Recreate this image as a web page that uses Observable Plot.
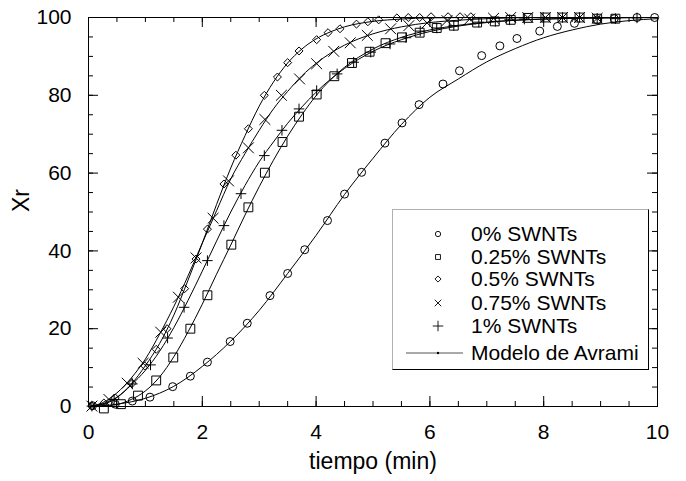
<!DOCTYPE html>
<html><head><meta charset="utf-8">
<script src="https://cdn.jsdelivr.net/npm/d3@7"></script>
<script src="https://cdn.jsdelivr.net/npm/@observablehq/plot@0.6"></script>
<style>
body{margin:0;background:#fff;font-family:"Liberation Sans",Arial,Helvetica,sans-serif;}
#wrap{position:relative;width:686px;height:481px;}
#legend{position:absolute;left:392px;top:209px;width:257px;height:161px;box-sizing:border-box;border-top:1px solid #b0b0b0;border-left:1px solid #b0b0b0;border-right:1.5px solid #000;border-bottom:1.5px solid #000;background:#fff;}
.row{position:absolute;left:0;height:24px;width:250px;}
.row svg{position:absolute;left:13px;top:0;}
.row span{position:absolute;left:78px;top:0;line-height:24px;font-size:21px;white-space:nowrap;color:#000;}
</style></head><body><div id="wrap"><div id="legend"></div></div>
<script>
// ---- data ----
const seriesNames = ["0% SWNTs", "0.25% SWNTs", "0.5% SWNTs", "0.75% SWNTs", "1% SWNTs"];
const modelName = "Modelo de Avrami";

const t0  = [0.07,0.47,0.77,1.08,1.48,1.79,2.09,2.49,2.79,3.19,3.50,3.80,4.20,4.50,4.80,5.21,5.51,5.81,6.23,6.52,6.91,7.23,7.53,7.93,8.24,8.54,8.94,9.24,9.64,9.95];
const xr0 = [0.2,0.6,1.4,2.4,5.1,7.8,11.4,16.7,21.4,28.5,34.2,40.3,47.8,54.6,60.2,67.7,72.9,77.6,82.9,86.3,90.2,92.7,94.6,96.5,97.7,98.5,99.4,99.7,100,100];

const t25  = [0.27,0.57,0.87,1.19,1.49,1.79,2.09,2.51,2.81,3.10,3.41,3.70,4.01,4.32,4.63,4.94,5.22,5.51,5.82,6.12,6.42,6.83,7.14,7.42,7.72,8.03,8.33,8.63,8.94,9.26];
const xr25 = [-0.5,0.6,2.8,6.7,12.6,20.0,28.6,41.6,51.2,60.1,68.0,74.5,80.2,84.9,88.3,91.2,93.4,94.9,96.1,97.3,97.9,98.7,99.0,99.4,99.9,100,100,100,99.7,99.7];

const t50  = [0.06,0.27,0.47,0.77,0.99,1.19,1.38,1.69,1.89,2.09,2.38,2.59,2.81,3.09,3.32,3.50,3.70,4.01,4.21,4.42,4.71,4.91,5.10,5.42,5.62,5.82,6.02,6.32,6.53,6.72];
const xr50 = [0.1,0.9,2.2,6.0,10.4,14.7,20.0,30.3,37.9,45.6,57.2,64.6,71.4,80.0,84.7,88.4,91.4,94.3,96.1,97.1,98.3,98.9,99.4,99.9,100,100,100.2,100.2,100.2,100.2];

const t75  = [0.06,0.36,0.68,0.96,1.27,1.58,1.89,2.19,2.46,2.81,3.10,3.39,3.71,4.01,4.31,4.60,4.90,5.31,5.63,5.95,6.30,6.70,7.12,7.42,7.72,8.03,8.33,8.63,8.94];
const xr75 = [0.1,1.8,6.0,11.1,19.1,28.1,38.2,48.4,58.0,66.5,73.8,80.0,84.2,88.1,91.3,93.5,95.4,97.1,97.9,98.6,99.2,99.6,99.8,100,100,100,100,100,99.8];

const t100  = [0.06,0.45,0.77,1.09,1.39,1.68,2.09,2.38,2.68,3.09,3.40,3.70,4.01,4.37,4.66,4.96,5.30,5.58,5.83,6.12,6.42,6.86,7.15,7.40,7.66,7.99,8.33,8.63,8.94,9.26,9.64];
const xr100 = [0.1,1.8,5.8,10.7,17.6,25.5,37.5,46.5,54.7,64.5,71.0,76.5,81.2,85.5,88.5,91.1,93.2,94.8,96.5,97.3,97.9,98.8,99.0,99.4,99.6,100,100,100,99.8,99.7,99.9];

// Avrami model curves
const fitT0   = [0,0.5,1,1.5,2,2.5,3,3.5,4,4.5,5,5.5,6,6.5,7,7.5,8,8.5,9,9.5,10];
const fitX0   = [0,0.6,2.1,5.2,10.3,16.8,24.7,34.2,44,54.5,63.8,72.5,79.5,84.2,88.6,92,94.8,96.8,98.3,99.2,99.7];
const fitT25  = [0,0.25,0.5,0.75,1,1.25,1.5,1.75,2,2.25,2.5,2.75,3,3.25,3.5,3.75,4,4.5,5,5.5,6,6.5,7,7.5,8,9,10];
const fitX25  = [0,0.1,0.5,1.8,4,7.6,12.8,19.2,26.3,34,41.5,49.2,56.5,63.3,69.5,75,79.9,87.2,91.9,94.9,96.8,98,98.8,99.3,99.6,99.9,100];
const fitT50  = [0,0.25,0.5,0.75,1,1.25,1.5,1.75,2,2.25,2.5,2.75,3,3.25,3.5,3.75,4,4.25,4.5,5,5.5,6,7,8,10];
const fitX50  = [0,0.7,2.4,5.7,10.5,16.2,23.5,32.5,42,51.9,61.3,69.6,77.2,83.4,88.3,91.9,94.5,96.3,97.6,99,99.6,99.9,100,100,100];
const fitT75  = [0,0.25,0.5,0.75,1,1.25,1.5,1.75,2,2.25,2.5,2.75,3,3.25,3.5,3.75,4,4.25,4.5,5,5.5,6,6.5,7,8,10];
const fitX75  = [0,1,3.5,7.3,12.2,18.6,25.7,33.6,42,50.3,58.5,65,71,76.5,81,85,88.2,90.8,92.9,95.8,97.6,98.7,99.3,99.7,100,100];
const fitT100 = [0,0.25,0.5,0.75,1,1.25,1.5,1.75,2,2.25,2.5,2.75,3,3.25,3.5,3.75,4,4.5,5,5.5,6,6.5,7,8,10];
const fitX100 = [0,0.5,2.3,5.5,9.3,14.2,20.3,27.3,34.8,42.5,50,56.8,62.9,68,72.8,77,80.8,86.9,91.3,94.3,96.4,97.8,98.7,99.6,100];

const xTickLabels = [0, 2, 4, 6, 8, 10];
const xMinorTicks = [0,0.5,1,1.5,2,2.5,3,3.5,4,4.5,5,5.5,6,6.5,7,7.5,8,8.5,9,9.5,10];
const yTickLabels = [0, 20, 40, 60, 80, 100];
const yMinorTicks = [0,5,10,15,20,25,30,35,40,45,50,55,60,65,70,75,80,85,90,95,100];
const xLabel = "tiempo (min)";
const yLabel = "Xr";

// ---- build tables ----
const obsT = [t0, t25, t50, t75, t100];
const obsX = [xr0, xr25, xr50, xr75, xr100];
const fitT = [fitT0, fitT25, fitT50, fitT75, fitT100];
const fitX = [fitX0, fitX25, fitX50, fitX75, fitX100];
const points = seriesNames.map((s, i) => obsT[i].map((t, j) => ({s, t, v: obsX[i][j]})));
const fits = seriesNames.flatMap((s, i) => fitT[i].map((t, j) => ({s, t, v: fitX[i][j]})));

// layout
const W = 686, H = 481, mL = 88, mR = 29, mT = 17, mB = 75;
const frameW = W - mL - mR, frameH = H - mT - mB;
const minorLen = 5, majorLen = 10;

// marker styles per series
const markerStyle = [
  {symbol: "circle", r: 4},
  {symbol: "square", r: 5},
  {symbol: "diamond2", r: 3.6},
  {symbol: "times", r: 5},
  {symbol: "plus", r: 3.5}
];

const id = d => d;
const chart = Plot.plot({
  width: W, height: H,
  marginLeft: mL, marginRight: mR, marginTop: mT, marginBottom: mB,
  style: {fontFamily: '"Liberation Sans", Arial, Helvetica, sans-serif', fontSize: "21px", color: "#000", background: "#fff"},
  x: {domain: [0, 10]},
  y: {domain: [0, 100]},
  marks: [
    Plot.line(fits, {x: "t", y: "v", z: "s", stroke: "#000", strokeWidth: 1, curve: "monotone-x"}),
    ...points.map((pts, i) => Plot.dot(pts, {x: "t", y: "v", symbol: markerStyle[i].symbol, r: markerStyle[i].r, fill: "none", stroke: "#000", strokeWidth: 1})),
    // inward ticks on all four sides
    Plot.tickX(xMinorTicks, {x: id, insetTop: frameH - minorLen, stroke: "#000"}),
    Plot.tickX(xTickLabels, {x: id, insetTop: frameH - majorLen, stroke: "#000"}),
    Plot.tickX(xMinorTicks, {x: id, insetBottom: frameH - minorLen, stroke: "#000"}),
    Plot.tickX(xTickLabels, {x: id, insetBottom: frameH - majorLen, stroke: "#000"}),
    Plot.tickY(yMinorTicks, {y: id, insetRight: frameW - minorLen, stroke: "#000"}),
    Plot.tickY(yTickLabels, {y: id, insetRight: frameW - majorLen, stroke: "#000"}),
    Plot.tickY(yMinorTicks, {y: id, insetLeft: frameW - minorLen, stroke: "#000"}),
    Plot.tickY(yTickLabels, {y: id, insetLeft: frameW - majorLen, stroke: "#000"}),
    // tick labels
    Plot.axisX(xTickLabels, {anchor: "bottom", tickSize: 0, tickPadding: 18, label: null, fontSize: 21}),
    Plot.axisY(yTickLabels, {anchor: "left", tickSize: 0, tickPadding: 17, label: null, fontSize: 21}),
    Plot.frame({stroke: "#000", strokeWidth: 1}),
    // axis titles
    Plot.text([xLabel], {text: id, frameAnchor: "bottom", dy: 62, fontSize: 23}),
    Plot.text([yLabel], {text: id, frameAnchor: "left", dx: -67, rotate: -90, fontSize: 23})
  ]
});
document.getElementById("wrap").insertBefore(chart, document.getElementById("legend"));

// ---- legend ----
const legend = document.getElementById("legend");
const legendSymbols = [d3.symbolCircle, d3.symbolSquare, d3.symbolDiamond2, d3.symbolTimes, d3.symbolPlus];
const legendSizes = [22, 24, 24, 30, 38];
const rowCenters = [23.7, 46.7, 69.3, 92.7, 116, 142.7];
const labels = [...seriesNames, modelName];
labels.forEach((lab, i) => {
  const row = document.createElement("div");
  row.className = "row";
  row.style.top = (rowCenters[i] - 12) + "px";
  const svg = d3.create("svg").attr("width", 62).attr("height", 24);
  if (i < seriesNames.length) {
    svg.append("path").attr("transform", "translate(32,12)")
      .attr("d", d3.symbol(legendSymbols[i], legendSizes[i])())
      .attr("fill", "none").attr("stroke", "#000").attr("stroke-width", 0.9);
  } else {
    svg.append("line").attr("x1", 0).attr("x2", 57).attr("y1", 12).attr("y2", 12)
      .attr("stroke", "#555").attr("stroke-width", 1);
    svg.append("circle").attr("cx", 32).attr("cy", 12).attr("r", 1.2).attr("fill", "#000");
  }
  row.appendChild(svg.node());
  const span = document.createElement("span");
  span.textContent = lab;
  row.appendChild(span);
  legend.appendChild(row);
});
</script></body></html>
